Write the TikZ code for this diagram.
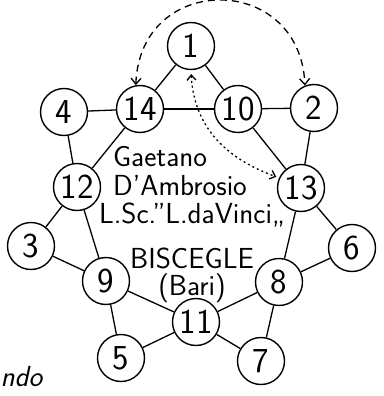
\documentclass[tikz,border=0pt]{standalone}
\usepackage{tikz}
\usetikzlibrary{arrows.meta}
\tikzset{vtx/.style={draw,circle,line width=1.4pt,minimum size=47pt,inner sep=0pt,
  font=\sffamily\fontsize{35}{35}\selectfont},
  txt/.style={inner sep=0pt,font=\sffamily\fontsize{29}{29}\selectfont}}

\begin{document}
\begin{tikzpicture}[x=1pt,y=-1pt,line width=1.3pt]
\useasboundingbox (0,0) rectangle (383,396);
% the fourteen numbered circles
\foreach \n/\x/\y in {1/191/46,14/140/109,10/238/109,4/64/112,2/314/108,12/77/187,13/301/188,
  3/31/246,6/352/248,9/106/281,8/279/282,11/196/322,5/121/358,7/261/361}
  \node[vtx] (n\n) at (\x,\y) {\n};
\foreach \a/\b in {1/14,1/10,14/10,4/14,10/2,4/12,14/12,2/13,10/13,12/3,12/9,3/9,
  13/6,13/8,6/8,9/11,9/5,5/11,8/11,8/7,11/7}
  \draw (n\a) -- (n\b);
% swaps
\draw[dash pattern=on 7pt off 5pt,{Straight Barb[length=6pt,width=10pt]}-{Straight Barb[length=6pt,width=10pt]}]
  (n14.100) .. controls (140,-28) and (300,-28) .. (n2.112);
\draw[dash pattern=on 2pt off 3pt,{Straight Barb[length=5pt,width=9pt]}-{Straight Barb[length=5pt,width=9pt]},shorten <=4pt,shorten >=3pt]
  (n1.270) .. controls (194,130) and (230,160) .. (n13.155);
% writing in the middle
\node[txt] (t1) at (160,157) {Gaetano};
\node[txt] (t2) at (180,186) {D'Ambrosio};
\node[txt] (t3) at (192,215) {L.Sc.''L.daVinci,,};
\node[txt] (t4) at (192,258) {BISCEGLE};
\node[txt] (t5) at (192,288) {(Bari)};
\node[txt,font=\sffamily\itshape\fontsize{29}{29}\selectfont,anchor=west] (t6) at (0,377) {ndo};
\end{tikzpicture}
\end{document}
